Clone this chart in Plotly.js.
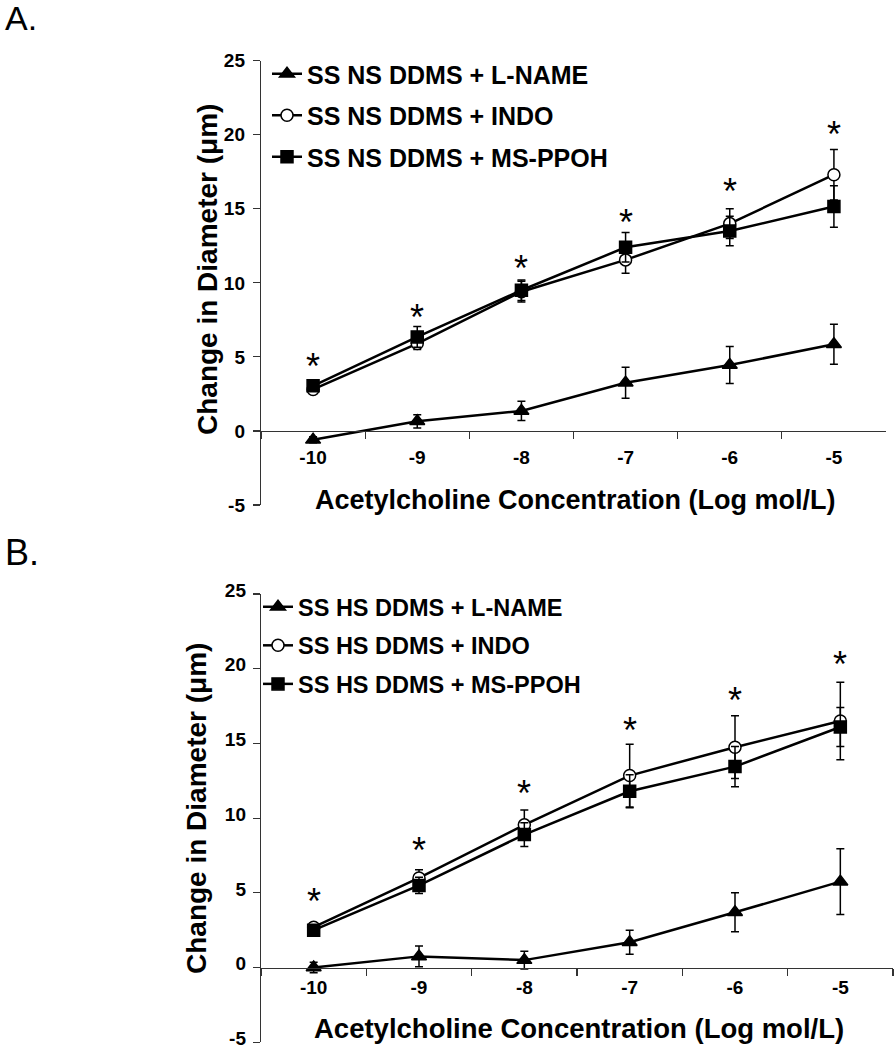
<!DOCTYPE html>
<html><head><meta charset="utf-8">
<script src="https://cdn.plot.ly/plotly-3.0.1.min.js"></script>
<style>body{margin:0;background:#fff}#chart{width:894px;height:1050px}</style>
</head><body><div id="chart"></div><script>
// ---- data ----
const concentrations = ['-10','-9','-8','-7','-6','-5'];
const namesA = ['SS NS DDMS + L-NAME','SS NS DDMS + INDO','SS NS DDMS + MS-PPOH'];
const namesB = ['SS HS DDMS + L-NAME','SS HS DDMS + INDO','SS HS DDMS + MS-PPOH'];
const lnameA = [-0.6, 0.65, 1.35, 3.25, 4.45, 5.85];
const lnameAErr = [0.2, 0.45, 0.65, 1.05, 1.25, 1.35];
const indoA = [2.8, 5.9, 9.4, 11.55, 14.0, 17.3];
const indoAErr = [0.3, 0.4, 0.7, 0.9, 1.0, 1.7];
const ppohA = [3.05, 6.35, 9.5, 12.4, 13.5, 15.15];
const ppohAErr = [0.3, 0.7, 0.7, 1.0, 1.0, 1.4];
const starA = [4.95, 8.3, 11.55, 14.7, 16.75, 20.65];
const lnameB = [0.0, 0.75, 0.5, 1.7, 3.7, 5.75];
const lnameBErr = [0.35, 0.7, 0.6, 0.8, 1.3, 2.2];
const indoB = [2.7, 6.0, 9.55, 12.85, 14.75, 16.5];
const indoBErr = [0.3, 0.55, 1.0, 2.1, 2.1, 2.6];
const ppohB = [2.5, 5.5, 8.9, 11.8, 13.45, 16.1];
const ppohBErr = [0.3, 0.55, 0.8, 1.1, 1.35, 1.3];
const starB = [5.0, 8.45, 12.25, 16.5, 18.5, 20.9];
const yTicks = [-5, 0, 5, 10, 15, 20, 25];
const yTickText = ['-5', '0', '5', '10', '15', '20', '25'];
const xTitle = 'Acetylcholine Concentration (Log mol/L)';
const yTitle = 'Change in Diameter (\u03bcm)';

// ---- layout helpers ----
const W = 894, H = 1050;
const FONT = 'Liberation Sans, Arial, sans-serif';
const yRange = [-5, 25];
const domA = [1 - 505 / H, 1 - 60.7 / H];
const domB = [1 - 1042.3 / H, 1 - 594 / H];
const zeroPos = d => d[0] + (0 - yRange[0]) / (yRange[1] - yRange[0]) * (d[1] - d[0]);

function series(x, y, err, name, sym, xa, ya, legend, grp) {
  const filled = sym !== 'circle';
  return {
    type: 'scatter', mode: 'lines+markers', x: x, y: y, name: name,
    xaxis: xa, yaxis: ya, legend: legend, legendgroup: grp,
    line: {color: '#000', width: 2.5},
    marker: {symbol: sym, size: sym === 'triangle-up' ? 13 : 12,
             color: filled ? '#000' : '#fff', line: {color: '#000', width: 1.5}},
    error_y: {type: 'data', array: err, visible: true, color: '#000', thickness: 1.5, width: 4}
  };
}

const data = [
  series(concentrations, lnameA, lnameAErr, namesA[0], 'triangle-up', 'x', 'y', 'legend', 'a1'),
  series(concentrations, indoA, indoAErr, namesA[1], 'circle', 'x', 'y', 'legend', 'a2'),
  series(concentrations, ppohA, ppohAErr, namesA[2], 'square', 'x', 'y', 'legend', 'a3'),
  series(concentrations, lnameB, lnameBErr, namesB[0], 'triangle-up', 'x2', 'y2', 'legend2', 'b1'),
  series(concentrations, indoB, indoBErr, namesB[1], 'circle', 'x2', 'y2', 'legend2', 'b2'),
  series(concentrations, ppohB, ppohBErr, namesB[2], 'square', 'x2', 'y2', 'legend2', 'b3')
];

function xAxis(dom, yDom, standoff, size) {
  return {
    type: 'category', categoryorder: 'array', categoryarray: concentrations,
    domain: dom, anchor: 'free', position: zeroPos(yDom),
    range: [-0.5, 5.5], showgrid: false, zeroline: false,
    showline: true, linecolor: '#333', linewidth: 1.2,
    ticks: 'outside', ticklen: 7, tickcolor: '#333', tickwidth: 1.2, tickson: 'boundaries',
    ticklabelstandoff: standoff,
    tickfont: {family: FONT, size: size, color: '#000', weight: 'bold'}
  };
}
function yAxis(dom, xa, size, standoff, shift) {
  return {
    domain: dom, anchor: xa, range: yRange, tickvals: yTicks, ticktext: yTickText,
    showgrid: false, zeroline: false, showline: true, linecolor: '#333', linewidth: 1.2,
    ticks: 'outside', ticklen: 7, tickcolor: '#333', tickwidth: 1.2,
    ticklabelstandoff: standoff, ticklabelshift: shift, ticklabeloverflow: 'allow',
    tickfont: {family: FONT, size: size, color: '#000', weight: 'bold'}
  };
}

const annotations = [];
function txt(x, y, text, size, bold, extra) {
  return Object.assign({xref: 'paper', yref: 'paper', x: x / W, y: 1 - y / H, text: text,
    showarrow: false, font: {family: FONT, size: size, color: '#000', weight: bold ? 'bold' : 'normal'}}, extra || {});
}
annotations.push(txt(3, 18, 'A.', 34, false, {xanchor: 'left', yanchor: 'middle'}));
annotations.push(txt(3, 552, 'B.', 36, false, {xanchor: 'left', yanchor: 'middle'}));
annotations.push(txt(575, 500, xTitle, 27, true, {xanchor: 'center', yanchor: 'middle'}));
annotations.push(txt(579, 1028, xTitle, 27.5, true, {xanchor: 'center', yanchor: 'middle'}));
annotations.push(txt(207, 270, yTitle, 28, true, {xanchor: 'center', yanchor: 'middle', textangle: -90}));
annotations.push(txt(196, 809, yTitle, 28, true, {xanchor: 'center', yanchor: 'middle', textangle: -90}));
concentrations.forEach((c, i) => {
  annotations.push({xref: 'x', yref: 'y', x: i, y: starA[i], text: '*', showarrow: false,
    yanchor: 'middle', yshift: -9, font: {family: FONT, size: 36, color: '#000'}});
  annotations.push({xref: 'x2', yref: 'y2', x: i, y: starB[i], text: '*', showarrow: false,
    yanchor: 'middle', yshift: -9, font: {family: FONT, size: 36, color: '#000'}});
});

const layout = {
  width: W, height: H, margin: {l: 0, r: 0, t: 0, b: 0},
  paper_bgcolor: '#fff', plot_bgcolor: '#fff', showlegend: true,
  font: {family: FONT, color: '#000'},
  xaxis: xAxis([261 / W, 886 / W], domA, 9, 19),
  yaxis: yAxis(domA, 'x', 19, 4, 0),
  xaxis2: xAxis([261 / W, 893 / W], domB, 2, 19),
  yaxis2: yAxis(domB, 'x2', 19, 3, -4),
  legend: {x: 267 / W, y: 1 - 51 / H, xanchor: 'left', yanchor: 'top', bgcolor: 'rgba(0,0,0,0)',
    tracegroupgap: 6, font: {family: FONT, size: 25, color: '#000', weight: 'bold'}},
  legend2: {x: 258 / W, y: 1 - 585 / H, xanchor: 'left', yanchor: 'top', bgcolor: 'rgba(0,0,0,0)',
    tracegroupgap: 5, font: {family: FONT, size: 23.5, color: '#000', weight: 'bold'}},
  annotations: annotations
};
Plotly.newPlot('chart', data, layout, {staticPlot: true});
</script></body></html>
